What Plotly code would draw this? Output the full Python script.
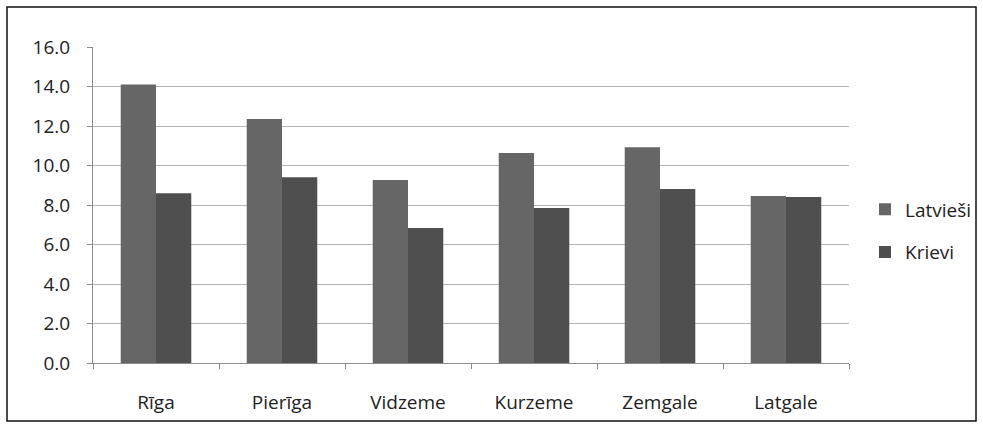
import plotly.graph_objects as go

regions = ["Rīga", "Pierīga", "Vidzeme", "Kurzeme", "Zemgale", "Latgale"]
latviesi = [14.1, 12.35, 9.27, 10.63, 10.93, 8.46]
krievi = [8.6, 9.4, 6.83, 7.85, 8.81, 8.4]
y_ticks = [0, 2, 4, 6, 8, 10, 12, 14, 16]

fig = go.Figure()
fig.add_trace(go.Bar(name="Latvieši", x=regions, y=latviesi, legendgroup="a",
                     marker=dict(color="#666666", line=dict(width=0))))
fig.add_trace(go.Bar(name="Krievi", x=regions, y=krievi, legendgroup="b",
                     marker=dict(color="#4f4f4f", line=dict(width=0))))

L, R, T, B = 93, 134, 47, 65
W, H = 983, 428
pw, ph = W - L - R, H - T - B

fig.update_layout(
    width=W, height=H,
    margin=dict(l=L, r=R, t=T, b=B, autoexpand=False),
    paper_bgcolor="white", plot_bgcolor="white",
    barmode="group", bargap=0.44, bargroupgap=0,
    font=dict(family="Open Sans", size=19, color="#222222"),
    legend=dict(x=(865 - L) / pw, y=(H - B - 231) / ph, xanchor="left", yanchor="middle",
                font=dict(size=19), tracegroupgap=15, traceorder="grouped",
                bgcolor="rgba(0,0,0,0)"),
    showlegend=True,
)
fig.update_yaxes(range=[0, 16], tickvals=y_ticks, ticktext=[f"{v:.1f}" for v in y_ticks],
                 showgrid=True, gridcolor="#b4b4b4", gridwidth=1,
                 showline=True, linecolor="#8c8c8c", linewidth=1,
                 ticks="outside", ticklen=5, tickcolor="#8c8c8c",
                 zeroline=False, ticklabelstandoff=13)
fig.update_xaxes(showline=True, linecolor="#8c8c8c", linewidth=1,
                 ticks="outside", ticklen=5, tickcolor="#8c8c8c", tickson="boundaries",
                 showgrid=False, ticklabelstandoff=22)

fig.add_shape(type="rect", xref="paper", yref="paper",
              x0=(7 - L) / pw, x1=(976 - L) / pw,
              y0=(H - B - 421) / ph, y1=(H - B - 7) / ph,
              line=dict(color="#111111", width=1.5), fillcolor="rgba(0,0,0,0)", layer="below")

fig.write_html("out.html", config={"displayModeBar": False},
               post_script="document.body.style.margin='0';")
